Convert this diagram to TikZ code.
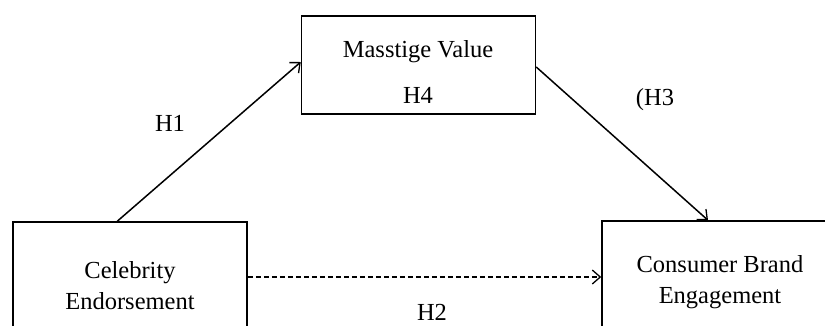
\documentclass[tikz,border=0pt]{standalone}
\usepackage{fontspec}
\setmainfont{Liberation Serif}
\usetikzlibrary{arrows.meta,positioning}

\begin{document}
\begin{tikzpicture}[x=1pt,y=-1pt,
    box/.style={draw,line width=1.5pt,align=center,inner sep=0pt},
    txt/.style={font=\fontsize{24.5}{31}\selectfont,align=center,inner sep=0pt},
    arr/.style={line width=1.5pt,-{Straight Barb[length=8pt,width=14pt,line width=1.3pt]}}]
   \useasboundingbox (0,0) rectangle (825,325);
   \clip (0,0) rectangle (825,325);
   \node[box,minimum width=234,minimum height=98]  (mv)  at (418.5,65) {};
   \node[box,txt,minimum width=234,minimum height=128] (ce)  at (130,286) {Celebrity\\Endorsement};
   \node[box,txt,minimum width=236,minimum height=122] (cbe) at (720,282) {Consumer Brand\\Engagement};
   \node[txt] (mvname) at (418,52)  {Masstige Value};
   \node[txt] (h4)     at (418,95)  {H4};
   \node[txt] (h1)     at (170,123) {H1};
   \node[txt] (h3)     at (655,100) {(H3};
   \node[txt] (h2)     at (432,312) {H2};
    \draw[arr] ([xshift=105pt]ce.north west) -- ([yshift=3pt]mv.west);
    \draw[arr] ([yshift=-2pt]mv.east) -- ([xshift=-12pt]cbe.north);
    \draw[arr,dashed,dash pattern=on 5pt off 3pt] ([yshift=9pt]ce.east) -- ([yshift=5pt]cbe.west);
\end{tikzpicture}
\end{document}
